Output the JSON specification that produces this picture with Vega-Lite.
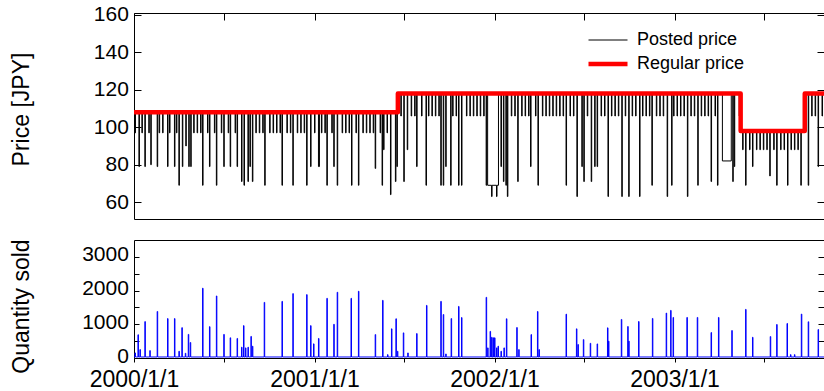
{
"$schema":"https://vega.github.io/schema/vega-lite/v6.json",
"padding":{"left":9,"top":3,"right":1,"bottom":0},
"spacing":18,
"config":{"font":"Liberation Sans","view":{"stroke":"#000000","strokeWidth":1},
"axis":{"grid":false,"domain":false,"tickColor":"#000000","tickWidth":1,"labelColor":"#000000","titleColor":"#000000","labelFont":"Liberation Sans","titleFont":"Liberation Sans","titleFontWeight":"normal"}},
"vconcat":[
{"width":690,"height":206,
"layer":[
{"data":{"values":[
{"d":"2000-1","p":108},
{"d":"2000-3","p":97},{"d":"2000-4","p":108},
{"d":"2000-11","p":79},{"d":"2000-12","p":108},
{"d":"2000-17","p":97},{"d":"2000-18","p":108},
{"d":"2000-23","p":79},{"d":"2000-24","p":108},
{"d":"2000-31","p":97},{"d":"2000-32","p":108},
{"d":"2000-35","p":80},{"d":"2000-36","p":108},
{"d":"2000-48","p":79},{"d":"2000-49","p":108},
{"d":"2000-52","p":97},{"d":"2000-53","p":108},
{"d":"2000-59","p":97},{"d":"2000-60","p":108},
{"d":"2000-69","p":79},{"d":"2000-70","p":108},
{"d":"2000-73","p":97},{"d":"2000-74","p":108},
{"d":"2000-83","p":79},{"d":"2000-84","p":108},
{"d":"2000-87","p":97},{"d":"2000-88","p":108},
{"d":"2000-92","p":69},{"d":"2000-93","p":108},
{"d":"2000-99","p":79},{"d":"2000-100","p":108},
{"d":"2000-106","p":90},{"d":"2000-107","p":108},
{"d":"2000-112","p":79},{"d":"2000-113","p":108},
{"d":"2000-116","p":79},{"d":"2000-117","p":108},
{"d":"2000-122","p":97},{"d":"2000-123","p":108},
{"d":"2000-129","p":97},{"d":"2000-130","p":108},
{"d":"2000-136","p":97},{"d":"2000-137","p":108},
{"d":"2000-140","p":69},{"d":"2000-141","p":108},
{"d":"2000-150","p":97},{"d":"2000-151","p":108},
{"d":"2000-154","p":79},{"d":"2000-155","p":108},
{"d":"2000-164","p":97},{"d":"2000-165","p":108},
{"d":"2000-168","p":69},{"d":"2000-169","p":108},
{"d":"2000-178","p":97},{"d":"2000-179","p":108},
{"d":"2000-183","p":79},{"d":"2000-184","p":108},
{"d":"2000-192","p":97},{"d":"2000-193","p":108},
{"d":"2000-196","p":79},{"d":"2000-197","p":108},
{"d":"2000-206","p":97},{"d":"2000-207","p":108},
{"d":"2000-210","p":79},{"d":"2000-211","p":108},
{"d":"2000-219","p":71},{"d":"2000-220","p":108},
{"d":"2000-224","p":69},{"d":"2000-225","p":108},
{"d":"2000-232","p":71},{"d":"2000-233","p":108},
{"d":"2000-236","p":79},{"d":"2000-237","p":108},
{"d":"2000-241","p":71},{"d":"2000-242","p":108},
{"d":"2000-248","p":97},{"d":"2000-249","p":108},
{"d":"2000-255","p":97},{"d":"2000-256","p":108},
{"d":"2000-262","p":97},{"d":"2000-263","p":108},
{"d":"2000-266","p":69},{"d":"2000-267","p":108},
{"d":"2000-276","p":97},{"d":"2000-277","p":108},
{"d":"2000-283","p":97},{"d":"2000-284","p":108},
{"d":"2000-290","p":97},{"d":"2000-291","p":108},
{"d":"2000-297","p":97},{"d":"2000-298","p":108},
{"d":"2000-301","p":69},{"d":"2000-302","p":108},
{"d":"2000-311","p":97},{"d":"2000-312","p":108},
{"d":"2000-318","p":97},{"d":"2000-319","p":108},
{"d":"2000-323","p":69},{"d":"2000-324","p":108},
{"d":"2000-332","p":97},{"d":"2000-333","p":108},
{"d":"2000-339","p":97},{"d":"2000-340","p":108},
{"d":"2000-346","p":97},{"d":"2000-347","p":108},
{"d":"2000-351","p":69},{"d":"2000-352","p":108},
{"d":"2000-359","p":79},{"d":"2000-360","p":108},
{"d":"2001-1","p":97},{"d":"2001-2","p":108},
{"d":"2001-9","p":79},{"d":"2001-11","p":108},
{"d":"2001-15","p":97},{"d":"2001-16","p":108},
{"d":"2001-22","p":97},{"d":"2001-23","p":108},
{"d":"2001-26","p":69},{"d":"2001-27","p":108},
{"d":"2001-36","p":97},{"d":"2001-37","p":108},
{"d":"2001-40","p":79},{"d":"2001-41","p":108},
{"d":"2001-47","p":69},{"d":"2001-48","p":108},
{"d":"2001-57","p":97},{"d":"2001-58","p":108},
{"d":"2001-64","p":97},{"d":"2001-65","p":108},
{"d":"2001-71","p":97},{"d":"2001-72","p":108},
{"d":"2001-76","p":69},{"d":"2001-77","p":108},
{"d":"2001-85","p":97},{"d":"2001-86","p":108},
{"d":"2001-90","p":69},{"d":"2001-91","p":108},
{"d":"2001-99","p":97},{"d":"2001-100","p":108},
{"d":"2001-106","p":97},{"d":"2001-107","p":108},
{"d":"2001-113","p":97},{"d":"2001-114","p":108},
{"d":"2001-120","p":97},{"d":"2001-121","p":108},
{"d":"2001-124","p":78},{"d":"2001-125","p":108},
{"d":"2001-134","p":97},{"d":"2001-135","p":108},
{"d":"2001-138","p":69},{"d":"2001-139","p":108},
{"d":"2001-141","p":88},{"d":"2001-142","p":108},
{"d":"2001-148","p":97},{"d":"2001-149","p":108},
{"d":"2001-155","p":64},{"d":"2001-156","p":108},
{"d":"2001-165","p":71},{"d":"2001-166","p":108},
{"d":"2001-168","p":79},{"d":"2001-169","p":108},
{"d":"2001-170","p":118},
{"d":"2001-176","p":106},{"d":"2001-177","p":118},
{"d":"2001-182","p":71},{"d":"2001-183","p":118},
{"d":"2001-189","p":88},{"d":"2001-190","p":118},
{"d":"2001-197","p":106},{"d":"2001-198","p":118},
{"d":"2001-204","p":106},{"d":"2001-205","p":118},
{"d":"2001-208","p":79},{"d":"2001-209","p":118},
{"d":"2001-218","p":106},{"d":"2001-219","p":118},
{"d":"2001-227","p":69},{"d":"2001-228","p":118},
{"d":"2001-232","p":106},{"d":"2001-233","p":118},
{"d":"2001-239","p":106},{"d":"2001-240","p":118},
{"d":"2001-246","p":106},{"d":"2001-247","p":118},
{"d":"2001-253","p":106},{"d":"2001-254","p":118},
{"d":"2001-257","p":69},{"d":"2001-258","p":118},
{"d":"2001-262","p":69},{"d":"2001-263","p":118},
{"d":"2001-267","p":79},{"d":"2001-268","p":118},
{"d":"2001-277","p":69},{"d":"2001-278","p":118},
{"d":"2001-281","p":106},{"d":"2001-282","p":118},
{"d":"2001-288","p":106},{"d":"2001-289","p":118},
{"d":"2001-293","p":69},{"d":"2001-294","p":118},
{"d":"2001-299","p":69},{"d":"2001-300","p":118},
{"d":"2001-309","p":106},{"d":"2001-310","p":118},
{"d":"2001-316","p":106},{"d":"2001-317","p":118},
{"d":"2001-323","p":106},{"d":"2001-324","p":118},
{"d":"2001-330","p":106},{"d":"2001-331","p":118},
{"d":"2001-337","p":106},{"d":"2001-338","p":118},
{"d":"2001-344","p":106},{"d":"2001-345","p":118},
{"d":"2001-349","p":69},{"d":"2001-350","p":118},
{"d":"2001-352","p":69},{"d":"2001-360","p":63},{"d":"2001-361","p":69},
{"d":"2002-5","p":63},{"d":"2002-6","p":69},{"d":"2002-9","p":118},
{"d":"2002-14","p":79},{"d":"2002-15","p":118},
{"d":"2002-19","p":71},{"d":"2002-20","p":118},
{"d":"2002-24","p":69},{"d":"2002-25","p":118},
{"d":"2002-27","p":63},{"d":"2002-28","p":118},
{"d":"2002-35","p":106},{"d":"2002-36","p":118},
{"d":"2002-42","p":106},{"d":"2002-43","p":118},
{"d":"2002-48","p":71},{"d":"2002-49","p":118},
{"d":"2002-56","p":106},{"d":"2002-57","p":118},
{"d":"2002-63","p":106},{"d":"2002-64","p":118},
{"d":"2002-70","p":106},{"d":"2002-71","p":118},
{"d":"2002-74","p":79},{"d":"2002-75","p":118},
{"d":"2002-84","p":106},{"d":"2002-85","p":118},
{"d":"2002-89","p":69},{"d":"2002-90","p":118},
{"d":"2002-98","p":106},{"d":"2002-99","p":118},
{"d":"2002-105","p":106},{"d":"2002-106","p":118},
{"d":"2002-112","p":106},{"d":"2002-113","p":118},
{"d":"2002-119","p":106},{"d":"2002-120","p":118},
{"d":"2002-126","p":106},{"d":"2002-127","p":118},
{"d":"2002-133","p":106},{"d":"2002-134","p":118},
{"d":"2002-140","p":106},{"d":"2002-141","p":118},
{"d":"2002-146","p":69},{"d":"2002-147","p":118},
{"d":"2002-154","p":106},{"d":"2002-155","p":118},
{"d":"2002-161","p":106},{"d":"2002-162","p":118},
{"d":"2002-168","p":63},{"d":"2002-169","p":118},
{"d":"2002-178","p":79},{"d":"2002-179","p":118},
{"d":"2002-182","p":71},{"d":"2002-183","p":118},
{"d":"2002-189","p":106},{"d":"2002-190","p":118},
{"d":"2002-197","p":71},{"d":"2002-198","p":118},
{"d":"2002-204","p":79},{"d":"2002-205","p":118},
{"d":"2002-209","p":79},{"d":"2002-210","p":118},
{"d":"2002-217","p":106},{"d":"2002-218","p":118},
{"d":"2002-224","p":106},{"d":"2002-225","p":118},
{"d":"2002-231","p":63},{"d":"2002-232","p":118},
{"d":"2002-238","p":106},{"d":"2002-239","p":118},
{"d":"2002-245","p":106},{"d":"2002-246","p":118},
{"d":"2002-252","p":106},{"d":"2002-253","p":118},
{"d":"2002-259","p":63},{"d":"2002-260","p":118},
{"d":"2002-266","p":106},{"d":"2002-267","p":118},
{"d":"2002-273","p":63},{"d":"2002-274","p":118},
{"d":"2002-280","p":106},{"d":"2002-281","p":118},
{"d":"2002-287","p":106},{"d":"2002-288","p":118},
{"d":"2002-295","p":63},{"d":"2002-296","p":118},
{"d":"2002-301","p":106},{"d":"2002-302","p":118},
{"d":"2002-308","p":106},{"d":"2002-309","p":118},
{"d":"2002-315","p":106},{"d":"2002-316","p":118},
{"d":"2002-320","p":69},{"d":"2002-321","p":118},
{"d":"2002-329","p":106},{"d":"2002-330","p":118},
{"d":"2002-336","p":106},{"d":"2002-337","p":118},
{"d":"2002-343","p":106},{"d":"2002-344","p":118},
{"d":"2002-351","p":63},{"d":"2002-352","p":118},
{"d":"2002-360","p":69},{"d":"2002-361","p":118},
{"d":"2002-364","p":106},{"d":"2002-365","p":118},
{"d":"2003-6","p":106},{"d":"2003-7","p":118},
{"d":"2003-13","p":106},{"d":"2003-14","p":118},
{"d":"2003-20","p":106},{"d":"2003-21","p":118},
{"d":"2003-27","p":63},{"d":"2003-28","p":118},
{"d":"2003-34","p":106},{"d":"2003-35","p":118},
{"d":"2003-41","p":106},{"d":"2003-42","p":118},
{"d":"2003-48","p":69},{"d":"2003-49","p":118},
{"d":"2003-55","p":106},{"d":"2003-56","p":118},
{"d":"2003-62","p":106},{"d":"2003-63","p":118},
{"d":"2003-69","p":106},{"d":"2003-70","p":118},
{"d":"2003-75","p":71},{"d":"2003-76","p":118},
{"d":"2003-83","p":106},{"d":"2003-84","p":118},
{"d":"2003-88","p":69},{"d":"2003-89","p":118},
{"d":"2003-98","p":82},{"d":"2003-116","p":118},
{"d":"2003-119","p":71},{"d":"2003-120","p":118},
{"d":"2003-122","p":79},{"d":"2003-123","p":118},
{"d":"2003-132","p":106},{"d":"2003-133","p":118},
{"d":"2003-135","p":98},
{"d":"2003-139","p":88},{"d":"2003-140","p":98},
{"d":"2003-145","p":69},{"d":"2003-146","p":98},
{"d":"2003-153","p":88},{"d":"2003-154","p":98},
{"d":"2003-159","p":79},{"d":"2003-160","p":98},
{"d":"2003-167","p":88},{"d":"2003-168","p":98},
{"d":"2003-174","p":88},{"d":"2003-175","p":98},
{"d":"2003-181","p":88},{"d":"2003-182","p":98},
{"d":"2003-188","p":88},{"d":"2003-189","p":98},
{"d":"2003-194","p":74},{"d":"2003-195","p":98},
{"d":"2003-202","p":88},{"d":"2003-203","p":98},
{"d":"2003-208","p":69},{"d":"2003-209","p":98},
{"d":"2003-216","p":88},{"d":"2003-217","p":98},
{"d":"2003-223","p":88},{"d":"2003-224","p":98},
{"d":"2003-230","p":69},{"d":"2003-231","p":98},
{"d":"2003-237","p":88},{"d":"2003-238","p":98},
{"d":"2003-244","p":88},{"d":"2003-245","p":98},
{"d":"2003-251","p":88},{"d":"2003-252","p":98},
{"d":"2003-257","p":69},{"d":"2003-258","p":98},
{"d":"2003-265","p":118},
{"d":"2003-272","p":69},{"d":"2003-273","p":118},
{"d":"2003-279","p":106},{"d":"2003-280","p":118},
{"d":"2003-286","p":106},{"d":"2003-287","p":118},
{"d":"2003-292","p":79},{"d":"2003-293","p":118},
{"d":"2003-300","p":106},{"d":"2003-301","p":118},
{"d":"2003-304","p":118}
],"format":{"parse":{"d":"utc:'%Y-%j'"}}},
"mark":{"type":"line","interpolate":"step-after","strokeWidth":1},
"encoding":{
"x":{"field":"d","type":"temporal","scale":{"type":"utc","domain":[{"year":2000,"month":1,"date":1,"utc":true},{"year":2003,"month":10,"date":31,"utc":true}]},
"axis":{"orient":"top","title":null,"labels":false,"tickSize":-7,"values":[{"year":2000,"month":1,"date":1,"utc":true},{"year":2000,"month":7,"date":1,"utc":true},{"year":2001,"month":1,"date":1,"utc":true},{"year":2001,"month":7,"date":1,"utc":true},{"year":2002,"month":1,"date":1,"utc":true},{"year":2002,"month":7,"date":1,"utc":true},{"year":2003,"month":1,"date":1,"utc":true},{"year":2003,"month":7,"date":1,"utc":true}]}},
"y":{"field":"p","type":"quantitative","scale":{"domain":[51,161],"nice":false,"zero":false},
"axis":{"values":[60,80,100,120,140,160],"tickSize":-7,"labelPadding":12.6,"labelFontSize":21,"title":"Price [JPY]","titleFontSize":23,"titleAngle":270,"titleBaseline":"bottom","titleAlign":"center","titleX":-101,"titleY":96}},
"color":{"datum":"Posted price","scale":{"domain":["Posted price","Regular price"],"range":["#000000","#ff0000"]},
"legend":{"orient":"none","legendX":452,"legendY":17,"title":null,"labelFontSize":18,"labelFont":"Liberation Sans","labelColor":"#000000","symbolType":"stroke","symbolSize":1521,"labelOffset":7,"clipHeight":20,"rowPadding":4}},
"strokeWidth":{"datum":"Posted price","type":"ordinal","scale":{"domain":["Posted price","Regular price"],"range":[1,4.5]},
"legend":{"orient":"none","legendX":452,"legendY":17,"title":null,"labelFontSize":18,"labelFont":"Liberation Sans","labelColor":"#000000","symbolType":"stroke","symbolSize":1521,"labelOffset":7,"clipHeight":20,"rowPadding":4}}
}},
{"data":{"values":[
{"d":"2000-1","r":108},{"d":"2001-170","r":118},{"d":"2003-135","r":98},{"d":"2003-265","r":118},{"d":"2003-304","r":118}
],"format":{"parse":{"d":"utc:'%Y-%j'"}}},
"mark":{"type":"line","interpolate":"step-after","strokeJoin":"round"},
"encoding":{
"x":{"field":"d","type":"temporal"},
"y":{"field":"r","type":"quantitative","scale":{"domain":[51,161],"nice":false,"zero":false},
"axis":{"orient":"right","values":[60,80,100,120,140,160],"tickSize":-7,"labels":false,"title":null}},
"color":{"datum":"Regular price"},
"strokeWidth":{"datum":"Regular price","type":"ordinal"}
}}
],
"resolve":{"scale":{"y":"independent"},"axis":{"y":"independent"}}
},
{"width":690,"height":118,
"data":{"values":[
{"d":"2000-1","q":30},
{"d":"2000-3","q":150},{"d":"2000-4","q":30},
{"d":"2000-9","q":690},{"d":"2000-10","q":30},
{"d":"2000-13","q":250},{"d":"2000-14","q":30},
{"d":"2000-23","q":1080},{"d":"2000-24","q":30},
{"d":"2000-33","q":220},{"d":"2000-34","q":30},
{"d":"2000-48","q":1380},{"d":"2000-49","q":30},
{"d":"2000-69","q":1170},{"d":"2000-70","q":30},
{"d":"2000-83","q":1170},{"d":"2000-84","q":30},
{"d":"2000-92","q":200},{"d":"2000-93","q":30},
{"d":"2000-98","q":900},{"d":"2000-99","q":30},
{"d":"2000-105","q":140},{"d":"2000-106","q":30},
{"d":"2000-111","q":700},{"d":"2000-112","q":30},
{"d":"2000-115","q":460},{"d":"2000-116","q":30},
{"d":"2000-140","q":2070},{"d":"2000-141","q":30},
{"d":"2000-154","q":930},{"d":"2000-155","q":30},
{"d":"2000-168","q":1840},{"d":"2000-169","q":30},
{"d":"2000-183","q":700},{"d":"2000-184","q":30},
{"d":"2000-196","q":600},{"d":"2000-197","q":30},
{"d":"2000-210","q":580},{"d":"2000-211","q":30},
{"d":"2000-219","q":320},{"d":"2000-220","q":30},
{"d":"2000-223","q":960},{"d":"2000-224","q":30},
{"d":"2000-227","q":300},{"d":"2000-228","q":30},
{"d":"2000-232","q":320},{"d":"2000-233","q":30},
{"d":"2000-238","q":640},{"d":"2000-239","q":30},
{"d":"2000-241","q":350},{"d":"2000-242","q":30},
{"d":"2000-265","q":1650},{"d":"2000-266","q":30},
{"d":"2000-301","q":1680},{"d":"2000-302","q":30},
{"d":"2000-323","q":1910},{"d":"2000-324","q":30},
{"d":"2000-351","q":1880},{"d":"2000-352","q":30},
{"d":"2000-359","q":960},{"d":"2000-360","q":30},
{"d":"2000-365","q":420},{"d":"2000-366","q":30},
{"d":"2001-9","q":580},{"d":"2001-10","q":30},
{"d":"2001-26","q":1770},{"d":"2001-27","q":30},
{"d":"2001-40","q":1000},{"d":"2001-41","q":30},
{"d":"2001-47","q":1950},{"d":"2001-48","q":30},
{"d":"2001-75","q":1770},{"d":"2001-76","q":30},
{"d":"2001-90","q":1980},{"d":"2001-91","q":30},
{"d":"2001-124","q":695},{"d":"2001-125","q":30},
{"d":"2001-139","q":1710},{"d":"2001-140","q":30},
{"d":"2001-149","q":100},{"d":"2001-150","q":30},
{"d":"2001-157","q":866},{"d":"2001-158","q":30},
{"d":"2001-166","q":1164},{"d":"2001-167","q":30},
{"d":"2001-169","q":200},{"d":"2001-170","q":30},
{"d":"2001-181","q":746},{"d":"2001-182","q":30},
{"d":"2001-190","q":150},{"d":"2001-191","q":30},
{"d":"2001-208","q":725},{"d":"2001-209","q":30},
{"d":"2001-228","q":1560},{"d":"2001-229","q":30},
{"d":"2001-257","q":1680},{"d":"2001-258","q":30},
{"d":"2001-262","q":1290},{"d":"2001-263","q":30},
{"d":"2001-267","q":120},{"d":"2001-268","q":30},
{"d":"2001-278","q":1170},{"d":"2001-279","q":30},
{"d":"2001-293","q":1530},{"d":"2001-294","q":30},
{"d":"2001-299","q":1200},{"d":"2001-300","q":30},
{"d":"2001-349","q":1800},{"d":"2001-350","q":30},
{"d":"2001-352","q":300},{"d":"2001-353","q":30},
{"d":"2001-357","q":790},{"d":"2001-358","q":30},
{"d":"2001-360","q":615},{"d":"2001-361","q":30},
{"d":"2001-363","q":600},{"d":"2001-364","q":30},
{"d":"2002-1","q":600},{"d":"2002-2","q":30},
{"d":"2002-5","q":300},{"d":"2002-6","q":30},
{"d":"2002-8","q":350},{"d":"2002-9","q":30},
{"d":"2002-14","q":200},{"d":"2002-15","q":30},
{"d":"2002-20","q":300},{"d":"2002-21","q":30},
{"d":"2002-25","q":1164},{"d":"2002-26","q":30},
{"d":"2002-46","q":904},{"d":"2002-47","q":30},
{"d":"2002-50","q":250},{"d":"2002-51","q":30},
{"d":"2002-75","q":695},{"d":"2002-76","q":30},
{"d":"2002-88","q":1380},{"d":"2002-89","q":30},
{"d":"2002-91","q":250},{"d":"2002-92","q":30},
{"d":"2002-146","q":1300},{"d":"2002-147","q":30},
{"d":"2002-167","q":866},{"d":"2002-168","q":30},
{"d":"2002-170","q":400},{"d":"2002-171","q":30},
{"d":"2002-181","q":546},{"d":"2002-182","q":30},
{"d":"2002-195","q":436},{"d":"2002-196","q":30},
{"d":"2002-209","q":418},{"d":"2002-210","q":30},
{"d":"2002-230","q":895},{"d":"2002-231","q":30},
{"d":"2002-232","q":500},{"d":"2002-233","q":30},
{"d":"2002-258","q":1143},{"d":"2002-259","q":30},
{"d":"2002-271","q":934},{"d":"2002-272","q":30},
{"d":"2002-273","q":500},{"d":"2002-274","q":30},
{"d":"2002-293","q":1083},{"d":"2002-294","q":30},
{"d":"2002-321","q":1173},{"d":"2002-322","q":30},
{"d":"2002-349","q":1332},{"d":"2002-350","q":30},
{"d":"2002-358","q":1412},{"d":"2002-359","q":30},
{"d":"2002-363","q":1203},{"d":"2002-364","q":30},
{"d":"2003-26","q":1203},{"d":"2003-27","q":30},
{"d":"2003-47","q":1203},{"d":"2003-48","q":30},
{"d":"2003-75","q":755},{"d":"2003-76","q":30},
{"d":"2003-90","q":1203},{"d":"2003-91","q":30},
{"d":"2003-117","q":815},{"d":"2003-118","q":30},
{"d":"2003-145","q":1442},{"d":"2003-146","q":30},
{"d":"2003-159","q":615},{"d":"2003-160","q":30},
{"d":"2003-195","q":636},{"d":"2003-196","q":30},
{"d":"2003-208","q":994},{"d":"2003-209","q":30},
{"d":"2003-229","q":1024},{"d":"2003-230","q":30},
{"d":"2003-236","q":100},{"d":"2003-237","q":30},
{"d":"2003-244","q":100},{"d":"2003-245","q":30},
{"d":"2003-258","q":1302},{"d":"2003-259","q":30},
{"d":"2003-272","q":1075},{"d":"2003-273","q":30},
{"d":"2003-292","q":845},{"d":"2003-293","q":30},
{"d":"2003-304","q":30}
],"format":{"parse":{"d":"utc:'%Y-%j'"}}},
"layer":[
{"mark":{"type":"line","interpolate":"step-after","color":"#0000ff","strokeWidth":1},
"encoding":{
"x":{"field":"d","type":"temporal","scale":{"type":"utc","domain":[{"year":2000,"month":1,"date":1,"utc":true},{"year":2003,"month":10,"date":31,"utc":true}]},
"axis":{"orient":"bottom","title":null,"tickSize":4,"labelPadding":6,"labelFontSize":23,"labelFlush":false,"labelOverlap":false,"labelExpr":"utcmonth(datum.value)==0 ? utcFormat(datum.value,'%Y/%-m/%-d') : ''","values":[{"year":2000,"month":1,"date":1,"utc":true},{"year":2000,"month":7,"date":1,"utc":true},{"year":2001,"month":1,"date":1,"utc":true},{"year":2001,"month":7,"date":1,"utc":true},{"year":2002,"month":1,"date":1,"utc":true},{"year":2002,"month":7,"date":1,"utc":true},{"year":2003,"month":1,"date":1,"utc":true},{"year":2003,"month":7,"date":1,"utc":true}]}},
"y":{"field":"q","type":"quantitative","scale":{"domain":[0,3500],"nice":false},
"axis":{"values":[0,500,1000,1500,2000,2500,3000],"format":"d","labelExpr":"datum.value % 1000 == 0 ? datum.label : ''","tickSize":-5,"labelPadding":10.6,"labelOffset":-2,"labelFontSize":21,"title":"Quantity sold","titleFontSize":23,"titleAngle":270,"titleBaseline":"bottom","titleAlign":"center","titleX":-101,"titleY":66}}
}},
{"mark":{"type":"line","interpolate":"step-after","opacity":0},
"encoding":{
"x":{"field":"d","type":"temporal"},
"y":{"field":"q","type":"quantitative","scale":{"domain":[0,3500],"nice":false},
"axis":{"orient":"right","values":[500,1000,1500,2000,2500,3000],"tickSize":-6,"labels":false,"title":null}}
}}
],
"resolve":{"scale":{"y":"independent"},"axis":{"y":"independent"}}
}
]
}
